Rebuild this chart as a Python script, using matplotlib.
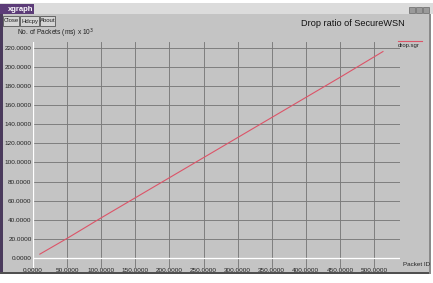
import matplotlib.pyplot as plt
from matplotlib.patches import Rectangle

# data
packet_id = [10, 50, 100, 150, 200, 250, 300, 350, 400, 450, 513]
drop = [4, 20.5, 42, 63, 84, 105, 126, 147, 168, 189, 216]

x_ticks = [0, 50, 100, 150, 200, 250, 300, 350, 400, 450, 500]
y_ticks = [0, 20, 40, 60, 80, 100, 120, 140, 160, 180, 200, 220]

W, H = 433, 283
bg = '#c4c4c4'
grid_col = '#7a7a7a'
line_col = '#dc5468'

fig = plt.figure(figsize=(W / 100, H / 100), dpi=100, facecolor='white')
plt.rcParams['font.family'] = ['Liberation Sans', 'DejaVu Sans']


def px(x, y, w, h):
    # pixel box (top-left origin) -> figure fraction
    return (x / W, 1 - (y + h) / H, w / W, h / H)


def box(x, y, w, h, z=-5, **kw):
    a, b, c, d = px(x, y, w, h)
    fig.patches.append(Rectangle((a, b), c, d, transform=fig.transFigure, zorder=z, **kw))


# window body
box(0, 5, 431, 269, facecolor=bg, edgecolor='none')
box(0, 5, 3, 269, facecolor='#4a3a5c', edgecolor='none')
box(0, 272, 431, 2, facecolor='#505050', edgecolor='none')
box(429, 5, 2, 269, facecolor='#8a8a8a', edgecolor='none')
# title bar
box(0, 3, 433, 11, facecolor='#dcdcdc', edgecolor='none')
box(0, 4, 34, 10, facecolor='#5c3c78', edgecolor='none')
fig.text(8 / W, 1 - 9.5 / H, 'xgraph', color='white', fontsize=5.5, fontweight='bold', va='center')
for cx in [409, 416, 423]:
    box(cx, 7, 6, 6, facecolor='#9a9a9a', edgecolor='#505050', linewidth=0.4)

# buttons
for bx, bw, lab in [(3, 16, 'Close'), (20, 19, 'Hdcpy'), (40, 15, 'About')]:
    box(bx, 16, bw, 10, facecolor='#d4d4d4', edgecolor='#555555', linewidth=0.6)
    fig.text((bx + bw / 2) / W, 1 - 21 / H, lab, fontsize=4.3, ha='center', va='center', color='#222222')

ax = fig.add_axes([33 / W, 1 - 268 / H, 367 / W, 226 / H])
ax.set_facecolor(bg)
for s in ax.spines.values():
    s.set_visible(False)

ax.set_xlim(0, 538)
ax.set_ylim(-10.5, 226)
for v in x_ticks[1:]:
    ax.axvline(v, color=grid_col, lw=0.65, zorder=1)
for v in y_ticks[1:]:
    ax.axhline(v, color=grid_col, lw=0.65, zorder=1)
ax.axvline(0, color='white', lw=0.9, zorder=1)
ax.axhline(0, color='white', lw=0.9, zorder=1)

ax.plot(packet_id, drop, color=line_col, lw=0.8, zorder=3)

ax.set_xticks(x_ticks)
ax.set_xticklabels(['%.4f' % v for v in x_ticks])
ax.set_yticks(y_ticks)
ax.set_yticklabels(['%.4f' % v for v in y_ticks])
ax.tick_params(length=0, labelsize=4.6, labelcolor='#222222', pad=1)
ax.tick_params(axis='x', pad=0)

fig.text(17 / W, 1 - 33 / H, r'No. of Packets (ms) x 10$^3$', fontsize=4.8, va='center', color='#222222')
fig.text(405 / W, 1 - 24 / H, 'Drop ratio of SecureWSN', fontsize=6.6, ha='right', va='center', color='#111111')
fig.text(398 / W, 1 - 45 / H, 'drop.sgr', fontsize=4.3, va='center', color='#222222')
fig.add_artist(plt.Line2D([398 / W, 422 / W], [1 - 41 / H, 1 - 41 / H], color=line_col, lw=0.8, transform=fig.transFigure))
fig.text(403 / W, 1 - 264 / H, 'Packet ID', fontsize=4.5, va='center', color='#222222')

fig.savefig('out.png', dpi=100, facecolor='white')
